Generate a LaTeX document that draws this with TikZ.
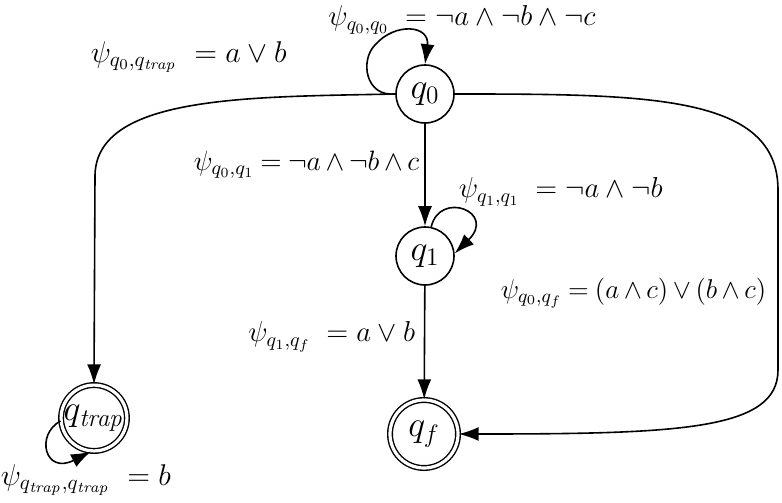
\RequirePackage{fix-cm}
\documentclass[tikz,border=0pt]{standalone}
\usetikzlibrary{arrows.meta}
\tikzset{
  st/.style={circle,draw,line width=0.8pt,inner sep=0pt,minimum size=29pt,font=\fontsize{18}{20}\selectfont},
  acc/.style={circle,draw,double,double distance=1.6pt,line width=0.7pt,inner sep=0pt,font=\fontsize{18}{20}\selectfont},
  lab/.style={inner sep=0pt,font=\fontsize{14.4}{16}\selectfont},
  biglab/.style={inner sep=0pt,font=\fontsize{15}{17}\selectfont},
  labA/.style={inner sep=0pt,font=\fontsize{14}{16}\selectfont},
  labB/.style={inner sep=0pt,font=\fontsize{13.6}{16}\selectfont},
  arr/.style={-{Latex[length=10pt,width=7pt]}}}
\begin{document}
\begin{tikzpicture}[x=0.5pt,y=-0.5pt,every path/.style={line width=0.8pt}]
\useasboundingbox (0,0) rectangle (782,503);
\node[st] (q0) at (425,94) {$q_0$};
\node[st] (q1) at (425,256) {$q_1$};
\node[acc,minimum size=34pt] (qf) at (424,434) {$q_f$};
\node[acc,minimum size=32pt] (qt) at (94,418) {$q_{\mathit{trap}}$};
\coordinate (tA) at (95,175);
\coordinate (fA) at (778,190);
\coordinate (fB) at (778,370);
% edges
\draw[arr] (q0.west) .. controls (365,97) and (360,60) .. (375,45) .. controls (395,22) and (430,25) .. (q0.north);
\draw[arr] (q0.west) .. controls (250,97) and (97,95) .. (tA) -- (qt.north);
\draw[arr] (q0.east) .. controls (650,94) and (778,95) .. (fA) -- (fB) .. controls (778,430) and (680,434) .. (qf.east);
\draw[arr] (q0) -- (q1);
\draw[arr] (q1.78) .. controls (440,190) and (497,212) .. (q1.5);
\draw[arr] (q1) -- (qf);
\draw[arr] (qt.185) .. controls (35,435) and (45,475) .. (qt.-95);
% labels
\node[lab] (l1) at (462,20) {$\psi_{q_0,q_0}\;=\neg a\wedge\neg b\wedge\neg c$};
\node[biglab,anchor=west] (l2) at (90,57) {$\psi_{q_0,q_{\mathit{trap}}}\;=a\vee b$};
\node[labA,anchor=east] (l3) at (420,165) {$\medmuskip=3mu\thickmuskip=4mu \psi_{q_0,q_1}=\neg a\wedge\neg b\wedge c$};
\node[lab,anchor=west] (l4) at (458,192) {$\psi_{q_1,q_1}\;=\neg a\wedge\neg b$};
\node[labB,anchor=east] (l5) at (767,293) {$\medmuskip=3mu\thickmuskip=4mu \psi_{q_0,q_f}=(a\wedge c)\vee(b\wedge c)$};
\node[lab,anchor=east] (l6) at (416,337) {$\psi_{q_1,q_f}\;=a\vee b$};
\node[biglab,anchor=west] (l7) at (0,480) {$\psi_{q_{\mathit{trap}},q_{\mathit{trap}}}\;=b$};
\end{tikzpicture}
\end{document}
